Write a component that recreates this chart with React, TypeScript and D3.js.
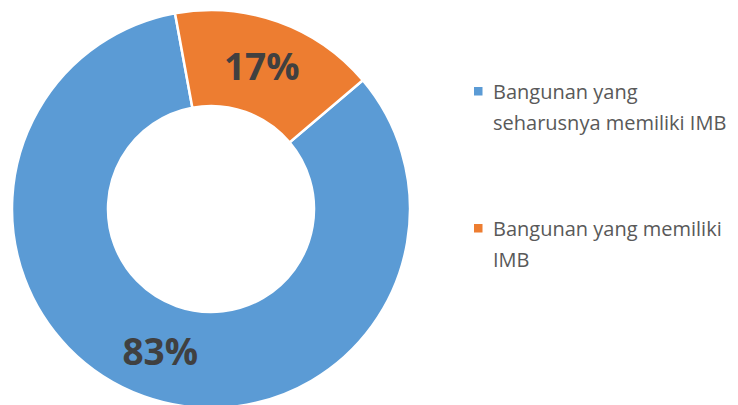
import React from "react";
import * as d3 from "d3";

const categories = ["Bangunan yang seharusnya memiliki IMB", "Bangunan yang memiliki IMB"];
const values = [83.3, 16.7];
const labels = ["83%", "17%"];
const colors = ["#5B9BD5", "#ED7D31"];
const legendLines = [["Bangunan yang", "seharusnya memiliki IMB"], ["Bangunan yang memiliki", "IMB"]];

const W = 738, H = 405;
const cx = 211, cy = 209, R = 199, r0 = 103;
const startDeg = 49.7;

export default function App() {
  const data = categories.map((c, i) => ({ c, v: values[i], i }));
  const pie = d3.pie<any>().value((d) => d.v).sort(null)
    .startAngle((startDeg * Math.PI) / 180)
    .endAngle((startDeg * Math.PI) / 180 + 2 * Math.PI);
  const arcs = pie(data);
  const arc = d3.arc<any>().innerRadius(r0).outerRadius(R);
  const labelArc = d3.arc<any>().innerRadius((r0 + R) / 2).outerRadius((r0 + R) / 2);
  const legendY = [99, 236];
  return (
    <svg width={W} height={H} style={{ position: "absolute", left: 0, top: 0, background: "#fff" }}>
      <g transform={`translate(${cx},${cy})`}>
        {arcs.map((a, i) => (
          <path key={i} d={arc(a) as string} fill={colors[i]} stroke="#fff" strokeWidth={2.5} />
        ))}
        {arcs.map((a, i) => {
          const [x, y] = labelArc.centroid(a);
          return (
            <text key={i} x={x} y={y} dy="0.36em" textAnchor="middle" fontFamily="'Open Sans', sans-serif"
              fontWeight="bold" fontSize={37} fill="#404040">{labels[i]}</text>
          );
        })}
      </g>
      {legendLines.map((lines, i) => (
        <g key={i}>
          <rect x={474} y={legendY[i] - 12} width={8.5} height={8.5} fill={colors[i]} />
          <text x={493} y={legendY[i]} fontFamily="'Open Sans', sans-serif" fontSize={20} fill="#595959">
            {lines.map((l, j) => (
              <tspan key={j} x={493} dy={j === 0 ? 0 : 31}>{l}</tspan>
            ))}
          </text>
        </g>
      ))}
    </svg>
  );
}
